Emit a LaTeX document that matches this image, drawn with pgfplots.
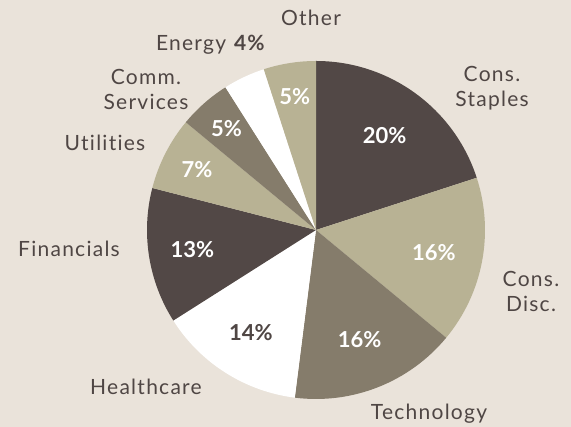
\documentclass[border=0pt]{standalone}
\usepackage{pgfplots}
\pgfplotsset{compat=1.18}
\usepackage{pgfplotstable}
\usetikzlibrary{calc}
\usepackage{fontspec}
\setmainfont[RawFeature={-liga;-dlig}]{Lato}
\definecolor{bg}{HTML}{EAE3DA}
\definecolor{dk}{HTML}{524846}
\definecolor{tan}{HTML}{B8B294}
\definecolor{gb}{HTML}{857C6B}
\definecolor{txt}{HTML}{4F4644}
\pgfplotstableread[col sep=comma]{
name,value,fillc,textc,r
Cons. Staples,20,dk,white,0.69
Cons. Disc.,16,tan,white,0.71
Technology,16,gb,white,0.70
Healthcare,14,white,txt,0.72
Financials,13,dk,white,0.74
Utilities,7,tan,white,0.79
Comm. Services,5,gb,white,0.80
Energy,4,white,none,0.80
Other,5,tan,white,0.80
}\data
\pgfplotstablecreatecol[expr accum={\pgfmathaccuma + \thisrow{value}}{0}]{cum}\data
\def\nonecol{none}
\begin{document}
\begin{tikzpicture}[x=1pt,y=1pt]
\fill[bg] (0,0) rectangle (571,427);
\useasboundingbox (0,0) rectangle (571,427);
\begin{axis}[at={(316pt,197pt)}, anchor=center, x=169pt, y=169pt,
  xmin=-1, xmax=1, ymin=-1, ymax=1, hide axis, clip=false]
\pgfplotsextra{
  \foreach \i in {0,...,8}{
    \pgfplotstablegetelem{\i}{cum}\of\data \let\cum\pgfplotsretval
    \pgfplotstablegetelem{\i}{value}\of\data \let\val\pgfplotsretval
    \pgfplotstablegetelem{\i}{fillc}\of\data \let\fc\pgfplotsretval
    \pgfplotstablegetelem{\i}{textc}\of\data \let\tc\pgfplotsretval
    \pgfplotstablegetelem{\i}{r}\of\data \let\rr\pgfplotsretval
    \pgfmathsetmacro\s{90-3.6*(\cum-\val)}
    \pgfmathsetmacro\e{90-3.6*\cum}
    \pgfmathsetmacro\m{(\s+\e)/2}
    \pgfmathsetmacro\rad{\rr*169}
    \fill[fill=\fc] (axis cs:0,0) -- ++(\s:169pt) arc[start angle=\s, end angle=\e, radius=169pt] -- cycle;
    \ifx\tc\nonecol\else
      \pgfmathtruncatemacro\vi{\val}
      \path (axis cs:0,0) ++(\m:\rad pt) node[text=\tc, font=\fontsize{22}{26}\selectfont\bfseries] {\vi\%};
    \fi
  }
}
\end{axis}
\begin{scope}[every node/.style={text=txt, font=\fontsize{21}{25}\selectfont\addfontfeatures{LetterSpace=6}, align=center, inner sep=0pt}]
\node at (492,{427-88}) {Cons.\\Staples};
\node at (531,{427-291}) {Cons.\\Disc.};
\node at (429,{427-414}) {Technology};
\node at (146,{427-387}) {Healthcare};
\node at (69,{427-249}) {Financials};
\node at (105,{427-143}) {Utilities};
\node at (146,{427-89}) {Comm.\\Services};
\node at (211,{427-45}) {Energy \textbf{4\%}};
\node at (311,{427-18}) {Other};
\end{scope}
\end{tikzpicture}
\end{document}
